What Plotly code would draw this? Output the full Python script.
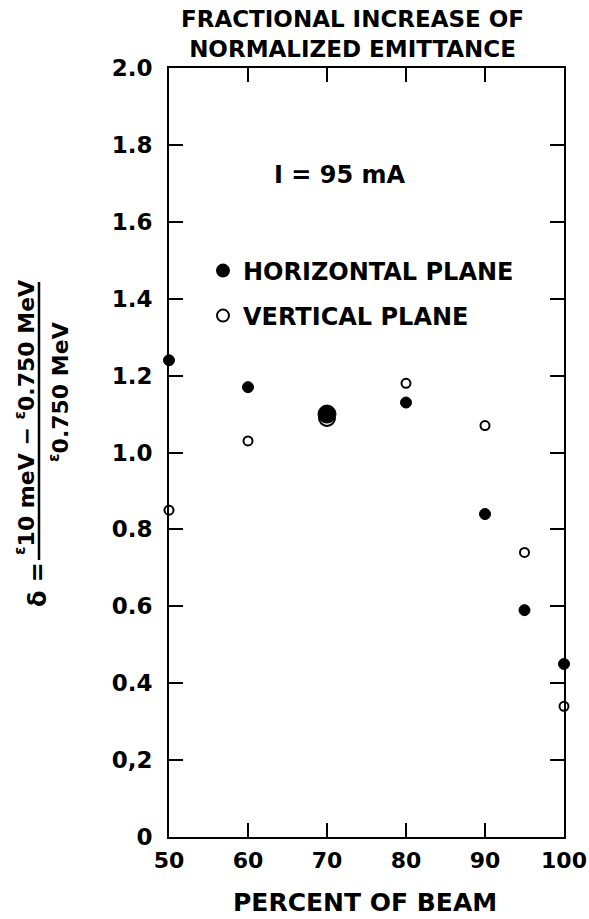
import plotly.graph_objects as go

# ---- data ----
percent_of_beam = [50, 60, 70, 80, 90, 95, 100]
horizontal_plane = [1.24, 1.17, 1.10, 1.13, 0.84, 0.59, 0.45]
vertical_plane = [0.85, 1.03, 1.09, 1.18, 1.07, 0.74, 0.34]

x_ticks = [50, 60, 70, 80, 90, 100]
y_ticks = [0, 0.2, 0.4, 0.6, 0.8, 1.0, 1.2, 1.4, 1.6, 1.8, 2.0]
y_ticktext = ["0", "0,2", "0.4", "0.6", "0.8", "1.0", "1.2", "1.4", "1.6", "1.8", "2.0"]

title_lines = ["FRACTIONAL INCREASE OF", "NORMALIZED EMITTANCE"]
current_label = "I = 95 mA"
x_title = "PERCENT OF BEAM"
legend_names = ["HORIZONTAL PLANE", "VERTICAL PLANE"]

FONT = "DejaVu Sans"
W, H = 589, 919
L, R, T, B = 169, 25, 68, 82
PW, PH = W - L - R, H - T - B


def px(xp):
    return (xp - L) / PW


def py(yp):
    return (H - B - yp) / PH


def f(size, bold=True):
    return dict(family=FONT, size=size, color="black", weight="bold" if bold else "normal")


big = 70
h_sizes = [18 if v == big else 11 for v in percent_of_beam]
v_sizes = [16 if v == big else 9 for v in percent_of_beam]

fig = go.Figure()
fig.add_trace(go.Scatter(
    x=percent_of_beam, y=horizontal_plane, mode="markers", name=legend_names[0],
    marker=dict(color="black", size=h_sizes, symbol="circle", opacity=1,
                line=dict(width=1, color="black")),
    cliponaxis=False, legend="legend",
))
fig.add_trace(go.Scatter(
    x=percent_of_beam, y=vertical_plane, mode="markers", name=legend_names[1],
    marker=dict(color="black", size=v_sizes, symbol="circle-open", opacity=1,
                line=dict(width=2, color="black")),
    cliponaxis=False, legend="legend2",
))

axis_common = dict(
    showgrid=False, zeroline=False, showline=True, linecolor="black", linewidth=2,
    ticks="inside", ticklen=14, tickwidth=2, tickcolor="black", mirror="ticks",
)

fig.update_xaxes(range=[50, 100], tickvals=x_ticks, ticktext=[str(v) for v in x_ticks],
                 tickfont=f(22), ticklabelstandoff=3, **axis_common)
fig.update_yaxes(range=[0, 2.0], tickvals=y_ticks, ticktext=y_ticktext,
                 tickfont=f(23), ticklabelstandoff=10, **axis_common)

ann = []
ann.append(dict(text="<br>".join(title_lines), x=px(352), y=py(34), xref="paper", yref="paper",
                showarrow=False, xanchor="center", yanchor="middle", font=f(23)))
ann.append(dict(text=current_label, x=px(340), y=py(175), xref="paper", yref="paper",
                showarrow=False, xanchor="center", yanchor="middle", font=f(24)))
ann.append(dict(text=x_title, x=px(365), y=py(902), xref="paper", yref="paper",
                showarrow=False, xanchor="center", yanchor="middle", font=f(25)))
# y-axis label: delta = (eps_10MeV - eps_0.750MeV) / eps_0.750MeV
ann.append(dict(text="<sup>ε</sup>10 meV − <sup>ε</sup>0.750 MeV", x=px(25), y=py(418),
                xref="paper", yref="paper", showarrow=False, textangle=-90,
                xanchor="center", yanchor="middle", font=f(22)))
ann.append(dict(text="<sup>ε</sup>0.750 MeV", x=px(59), y=py(392),
                xref="paper", yref="paper", showarrow=False, textangle=-90,
                xanchor="center", yanchor="middle", font=f(22)))
ann.append(dict(text="δ =", x=px(38), y=py(585),
                xref="paper", yref="paper", showarrow=False, textangle=-90,
                xanchor="center", yanchor="middle", font=f(24)))

shapes = [dict(type="line", xref="paper", yref="paper", x0=px(39), x1=px(39),
               y0=py(560), y1=py(282), line=dict(color="black", width=2.5))]

legend_common = dict(xanchor="left", yanchor="middle", bgcolor="rgba(0,0,0,0)",
                     borderwidth=0, itemsizing="constant", font=f(24))

fig.update_layout(
    width=W, height=H,
    margin=dict(l=L, r=R, t=T, b=B, autoexpand=False),
    paper_bgcolor="white", plot_bgcolor="white",
    annotations=ann, shapes=shapes,
    legend=dict(x=px(203), y=py(271), **legend_common),
    legend2=dict(x=px(203), y=py(316), **legend_common),
    showlegend=True,
)

fig.write_html("out.html", config={"displayModeBar": False},
               post_script="document.body.style.margin='0';document.body.style.overflow='hidden';")
